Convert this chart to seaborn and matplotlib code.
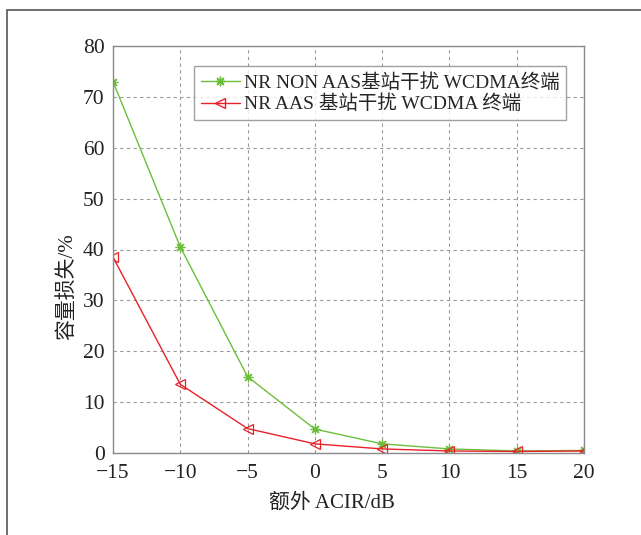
import matplotlib
matplotlib.use("Agg")
import matplotlib.pyplot as plt
import seaborn as sns
import pandas as pd
from matplotlib.patches import Rectangle
from matplotlib.lines import Line2D

x_vals = [-15, -10, -5, 0, 5, 10, 15, 20]
green_vals = [73.0, 40.5, 15.0, 4.7, 1.8, 0.8, 0.4, 0.5]
red_vals = [38.5, 13.5, 4.8, 1.8, 0.8, 0.4, 0.3, 0.4]
labels = ["NR NON AAS基站干扰 WCDMA终端", "NR AAS 基站干扰 WCDMA 终端"]
colors = ["#6cbf3c", "#e8212a"]
star = (8, 2, 0)
markers = [star, "<"]

sns.set_theme(style="white")
plt.rcParams['font.family'] = ['Liberation Serif', 'Noto Sans CJK SC']
plt.rcParams['axes.unicode_minus'] = True

fig = plt.figure(figsize=(6.41, 5.35), dpi=100)
ax = fig.add_axes([113/641, 1 - 453/535, (584-113)/641, (453-46)/535])

for vals, c, m in zip([green_vals, red_vals], colors, markers):
    sns.lineplot(x=x_vals, y=vals, color=c, marker=m, markersize=7,
                 markerfacecolor="none", markeredgecolor=c, markeredgewidth=0.9,
                 linewidth=1.0, ax=ax, legend=False)

ax.set_xlim(-15, 20)
ax.set_ylim(0, 80)
ax.set_xticks(range(-15, 21, 5))
ax.set_yticks(range(0, 81, 10))
ax.grid(True, linestyle=(0, (3, 3)), color="#9a9a9a", linewidth=0.8)
for sp in ax.spines.values():
    sp.set_color("#8a8a8a")
    sp.set_linewidth(1.0)
ax.tick_params(direction="in", length=0, labelsize=15.5, labelcolor="#222222")
ax.tick_params(axis="x", pad=8)
ax.tick_params(axis="y", pad=6)
ax.set_xlabel("额外 ACIR/dB", fontsize=15, color="#222222")
ax.set_ylabel("容量损失/%", fontsize=15, color="#222222")
ax.xaxis.set_label_coords(0.465, -0.098)
ax.yaxis.set_label_coords(-0.076, 0.408)

handles = [Line2D([], [], color=c, marker=m, markerfacecolor="none", markersize=7, lw=1.0)
           for c, m in zip(colors, markers)]
leg = ax.legend(handles, labels, loc="upper right", bbox_to_anchor=(0.962, 0.95),
                fontsize=14, frameon=True, fancybox=False, handlelength=2.0,
                handletextpad=0.2, borderpad=0.35, labelspacing=0.15, borderaxespad=0)
leg.get_frame().set_edgecolor("#8a8a8a")
leg.get_frame().set_linewidth(1.0)

fig.patches.append(Rectangle((7/641, -0.1), 1.2, 1 - 10/535 + 0.1, transform=fig.transFigure,
                             fill=False, edgecolor="#555555", linewidth=1.2))

fig.savefig("out.png", dpi=100)
